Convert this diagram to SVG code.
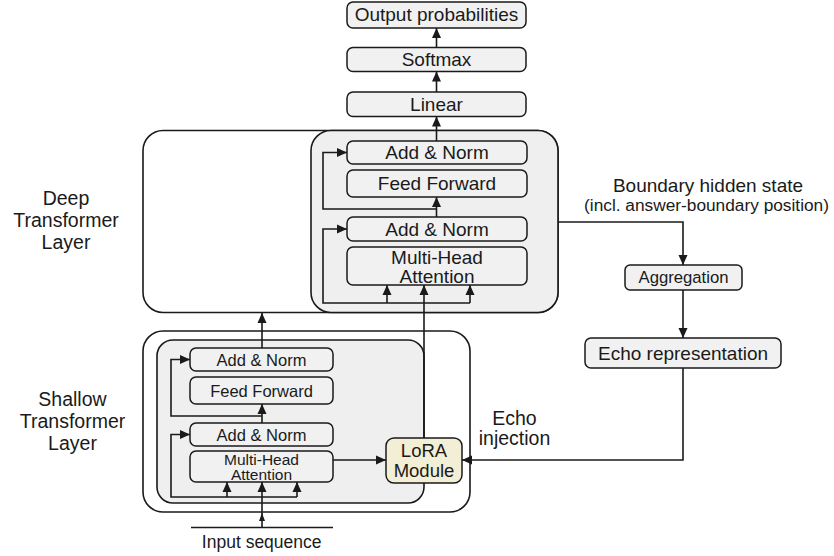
<svg xmlns="http://www.w3.org/2000/svg" width="834" height="556" viewBox="0 0 834 556">
<style>
text{font-family:"Liberation Sans",Arial,sans-serif;fill:#1a1a1a;text-anchor:middle}
.node{fill:#f1f1f1;stroke:#1a1a1a;stroke-width:1.5}
.lora{fill:#f3eed6;stroke:#1a1a1a;stroke-width:1.5}
.cont{fill:#efefef;stroke:#1a1a1a;stroke-width:1.6}
.outer{fill:#ffffff;stroke:#1a1a1a;stroke-width:1.6}
.big{font-size:19px}
.sm{font-size:16.5px}
.lab{font-size:19.5px}
.conn path{fill:none;stroke:#1a1a1a;stroke-width:1.6}
</style>
<defs>
<marker id="ah" markerWidth="10" markerHeight="10" refX="10" refY="5" orient="auto" markerUnits="userSpaceOnUse">
<path d="M0,0.5 L10,5 L0,9.5 z" fill="#1a1a1a"/>
</marker>
<marker id="ahs" markerWidth="8" markerHeight="8" refX="8" refY="4" orient="auto" markerUnits="userSpaceOnUse">
<path d="M0,1 L8,4 L0,7 z" fill="#1a1a1a"/>
</marker>
</defs>
<rect width="834" height="556" fill="#ffffff"/>

<g id="deep-layer">
<rect class="outer" x="143" y="130.5" width="415" height="182" rx="20"/>
<rect class="cont" x="311" y="130.5" width="247" height="182" rx="20"/>
</g>
<g id="shallow-layer">
<rect class="outer" x="143" y="331" width="327" height="181" rx="20"/>
<rect class="cont" x="157" y="340" width="267" height="163" rx="16"/>
</g>

<g id="label-deep">
<text class="lab" x="66" y="205">Deep</text>
<text class="lab" x="66" y="227">Transformer</text>
<text class="lab" x="66" y="249">Layer</text>
</g>
<g id="label-shallow">
<text class="lab" x="72.5" y="406">Shallow</text>
<text class="lab" x="72.5" y="428">Transformer</text>
<text class="lab" x="72.5" y="450">Layer</text>
</g>

<g id="output-probabilities">
<rect class="node" x="347" y="2" width="179" height="26" rx="6"/>
<text class="big" x="436.5" y="21">Output probabilities</text>
</g>
<g id="softmax">
<rect class="node" x="347" y="47.5" width="179" height="24" rx="6"/>
<text class="big" x="436.5" y="66">Softmax</text>
</g>
<g id="linear">
<rect class="node" x="347" y="92" width="179" height="24.5" rx="6"/>
<text class="big" x="436.5" y="110.5">Linear</text>
</g>

<g id="deep-addnorm-1">
<rect class="node" x="347" y="141" width="180" height="23" rx="6"/>
<text class="big" x="437" y="159">Add &amp; Norm</text>
</g>
<g id="deep-feedforward">
<rect class="node" x="347" y="170" width="180" height="27" rx="6"/>
<text class="big" x="437" y="190">Feed Forward</text>
</g>
<g id="deep-addnorm-2">
<rect class="node" x="347" y="217" width="180" height="24" rx="6"/>
<text class="big" x="437" y="236">Add &amp; Norm</text>
</g>
<g id="deep-mha">
<rect class="node" x="347" y="247" width="180" height="38" rx="6"/>
<text class="big" x="437" y="263.5">Multi-Head</text>
<text class="big" x="437" y="282.5">Attention</text>
</g>

<g id="shallow-addnorm-1">
<rect class="node" x="190" y="348" width="143" height="23" rx="6"/>
<text class="sm" x="261.5" y="365.5">Add &amp; Norm</text>
</g>
<g id="shallow-feedforward">
<rect class="node" x="190" y="377" width="143" height="27" rx="6"/>
<text class="sm" x="261.5" y="396.5">Feed Forward</text>
</g>
<g id="shallow-addnorm-2">
<rect class="node" x="190" y="423" width="143" height="23" rx="6"/>
<text class="sm" x="261.5" y="440.5">Add &amp; Norm</text>
</g>
<g id="shallow-mha">
<rect class="node" x="190" y="451" width="143" height="31" rx="6"/>
<text style="font-size:15.5px" x="261.5" y="464.5">Multi-Head</text>
<text style="font-size:15.5px" x="261.5" y="480">Attention</text>
</g>

<g id="lora-module">
<rect class="lora" x="386" y="438" width="76" height="45" rx="8"/>
<text style="font-size:18.5px" x="424" y="456.5">LoRA</text>
<text style="font-size:18.5px" x="424" y="477">Module</text>
</g>

<g id="aggregation">
<rect class="node" x="625" y="265" width="117" height="25" rx="5"/>
<text style="font-size:16.7px" x="683.5" y="283">Aggregation</text>
</g>
<g id="echo-representation">
<rect class="node" x="585" y="338" width="196" height="30" rx="6"/>
<text class="big" x="683" y="360">Echo representation</text>
</g>

<g id="boundary-label">
<text style="font-size:19px" x="708" y="192">Boundary hidden state</text>
<text style="font-size:17.3px" x="706.5" y="211">(incl. answer-boundary position)</text>
</g>
<g id="echo-injection-label">
<text class="lab" x="514.5" y="425">Echo</text>
<text class="lab" x="514.5" y="445">injection</text>
</g>
<g id="input-sequence">
<text style="font-size:17.5px" x="261.7" y="548">Input sequence</text>
</g>

<g class="conn" id="connectors">
<path d="M436.5 47.5 V28" marker-end="url(#ah)"/>
<path d="M436.5 92 V71.5" marker-end="url(#ah)"/>
<path d="M436.5 141 V116.5" marker-end="url(#ah)"/>
<path d="M436.5 209 H323 V152.5 H347" marker-end="url(#ah)"/>
<path d="M436.5 217 V197" marker-end="url(#ah)"/>
<path d="M470 303 H323 V229 H347" marker-end="url(#ah)"/>
<path d="M387 303 V285" marker-end="url(#ah)"/>
<path d="M470 303 V285" marker-end="url(#ah)"/>
<path d="M424 438 V285" marker-end="url(#ah)"/>
<path d="M262 348 V313" marker-end="url(#ah)"/>
<path d="M262 416 H171 V359.5 H190" marker-end="url(#ah)"/>
<path d="M262 423 V404" marker-end="url(#ah)"/>
<path d="M297 497 H171 V434.5 H190" marker-end="url(#ah)"/>
<path d="M227 497 V482" marker-end="url(#ah)"/>
<path d="M297 497 V482" marker-end="url(#ah)"/>
<path d="M262 527 V513" marker-end="url(#ahs)"/>
<path d="M262 513 V482" marker-end="url(#ah)"/>
<path d="M191 527.5 H333"/>
<path d="M333 460 H386" marker-end="url(#ah)"/>
<path d="M558 222 H683 V265" marker-end="url(#ah)"/>
<path d="M683 290 V338" marker-end="url(#ah)"/>
<path d="M683 368 V460 H462" marker-end="url(#ah)"/>
</g>
</svg>
